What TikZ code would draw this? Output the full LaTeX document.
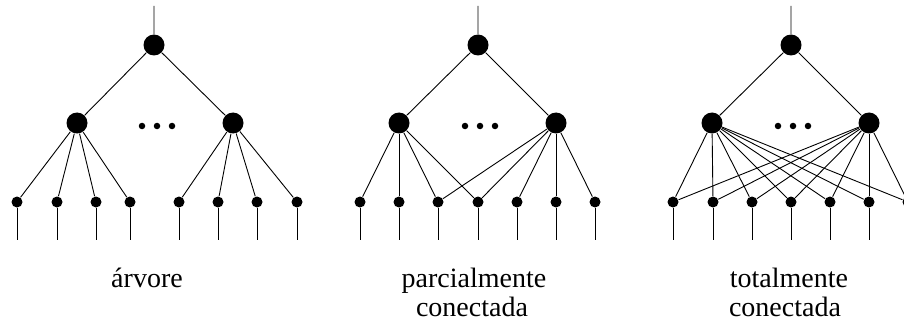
\documentclass[tikz,border=0pt]{standalone}
\usepackage{fontspec}
\setmainfont{Liberation Serif}
\begin{document}
\begin{tikzpicture}[x=1pt,y=-1pt,line width=0.9pt,
  bignode/.style={circle,fill=black,inner sep=0pt,minimum size=21pt},
  leafnode/.style={circle,fill=black,inner sep=0pt,minimum size=11pt},
  dotnode/.style={circle,fill=black,inner sep=0pt,minimum size=6.5pt},
  caption/.style={font=\fontsize{28}{30}\selectfont,anchor=base,inner sep=0pt}]
\useasboundingbox (0,0) rectangle (904,326);
\clip (0,0) rectangle (904,326);

% ---------- tree ----------
\node[bignode] (r1) at (154,45) {};
\node[bignode] (a1) at (77,123) {};
\node[bignode] (b1) at (233,123) {};
\coordinate (t1) at (154,6);
\foreach \i/\x in {1/17,2/57,3/96,4/130,5/179,6/218,7/257,8/297}{
  \node[leafnode] (l1\i) at (\x,202) {};
  \coordinate (s1\i) at (\x,240);
  \draw (l1\i) -- (s1\i);
}
\foreach \i in {1,2,3}{\node[dotnode] (d1\i) at (127+15*\i,126) {};}
\draw (t1) -- (r1) (r1) -- (a1) (r1) -- (b1);
\foreach \i in {1,...,4}{\draw (a1) -- (l1\i);}
\foreach \i in {5,...,8}{\draw (b1) -- (l1\i);}
\node[caption] (c1) at (147,287) {árvore};

% ---------- partially connected ----------
\node[bignode] (r2) at (478,45) {};
\node[bignode] (a2) at (399,123) {};
\node[bignode] (b2) at (556,123) {};
\coordinate (t2) at (478,6);
\foreach \i/\x in {1/360,2/399,3/438,4/478,5/517,6/556,7/595}{
  \node[leafnode] (l2\i) at (\x,202) {};
  \coordinate (s2\i) at (\x,240);
  \draw (l2\i) -- (s2\i);
}
\foreach \i in {1,2,3}{\node[dotnode] (d2\i) at (450+15*\i,126) {};}
\draw (t2) -- (r2) (r2) -- (a2) (r2) -- (b2);
\foreach \i in {1,...,4}{\draw (a2) -- (l2\i);}
\foreach \i in {3,...,7}{\draw (b2) -- (l2\i);}
\node[caption] (c2a) at (474,287) {parcialmente};
\node[caption] (c2b) at (472,316) {conectada};

% ---------- fully connected ----------
\node[bignode] (r3) at (791,45) {};
\node[bignode] (a3) at (712,123) {};
\node[bignode] (b3) at (869,123) {};
\coordinate (t3) at (791,6);
\foreach \i/\x in {1/673,2/713,3/752,4/791,5/830,6/869,7/908}{
  \node[leafnode] (l3\i) at (\x,202) {};
  \coordinate (s3\i) at (\x,240);
  \draw (l3\i) -- (s3\i);
}
\foreach \i in {1,2,3}{\node[dotnode] (d3\i) at (763+15*\i,126) {};}
\draw (t3) -- (r3) (r3) -- (a3) (r3) -- (b3);
\foreach \i in {1,...,7}{\draw (a3) -- (l3\i); \draw (b3) -- (l3\i);}
\node[caption] (c3a) at (789,287) {totalmente};
\node[caption] (c3b) at (785,316) {conectada};
\end{tikzpicture}
\end{document}
